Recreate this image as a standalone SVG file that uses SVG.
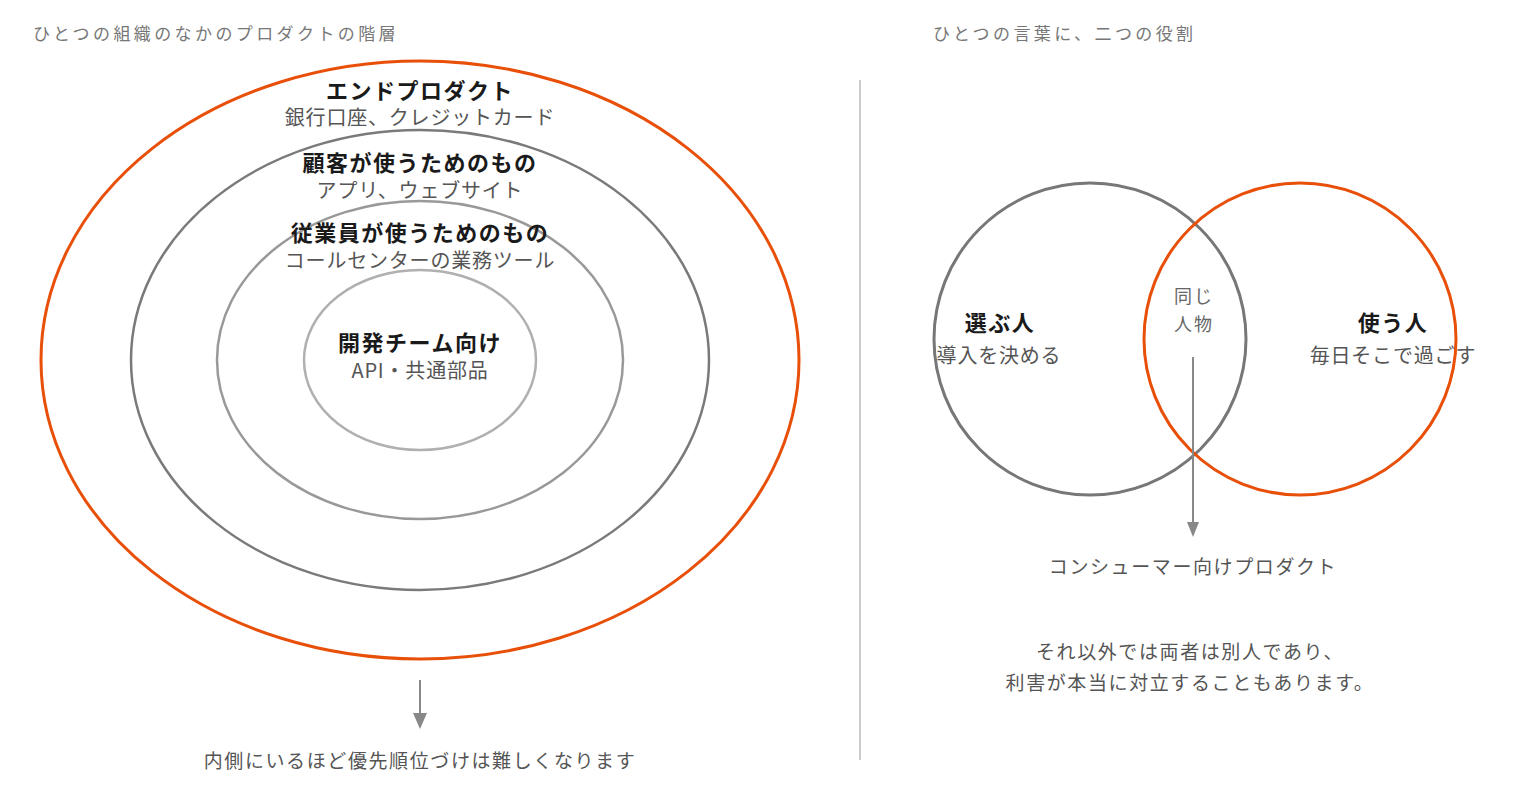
<svg xmlns="http://www.w3.org/2000/svg" width="1520" height="800" viewBox="0 0 1520 800">
<style>
text{font-family:"Noto Sans CJK JP","Noto Sans",sans-serif;}
.title{font-size:17px;fill:#777;letter-spacing:3.4px;}
.h{font-size:22px;font-weight:700;fill:#1a1a1a;text-anchor:middle;letter-spacing:1.5px;}
.s{font-size:20px;fill:#555;text-anchor:middle;letter-spacing:0.8px;}
.n{font-size:19px;fill:#555;text-anchor:middle;letter-spacing:1.6px;}
.m{font-size:18px;fill:#666;text-anchor:middle;letter-spacing:2px;}
.arrow{stroke:#888;stroke-width:2;fill:none;}
.head{fill:#888;}
</style>
<rect width="1520" height="800" fill="#fff"/>
<text class="title" x="33" y="40">ひとつの組織のなかのプロダクトの階層</text>
<text class="title" x="933" y="40">ひとつの言葉に、二つの役割</text>
<line x1="860" y1="80" x2="860" y2="760" stroke="#cccccc" stroke-width="2"/>
<g id="node-end-product">
<ellipse cx="420" cy="360" rx="379" ry="299" fill="none" stroke="#E8500A" stroke-width="3"/>
<text class="h" x="420" y="99">エンドプロダクト</text>
<text class="s" x="420" y="125">銀行口座、クレジットカード</text>
</g>
<g id="node-customer">
<ellipse cx="420" cy="360" rx="289" ry="230" fill="none" stroke="#7a7a7a" stroke-width="2.5"/>
<text class="h" x="420" y="171">顧客が使うためのもの</text>
<text class="s" x="420" y="198">アプリ、ウェブサイト</text>
</g>
<g id="node-employee">
<ellipse cx="420" cy="360" rx="203" ry="159" fill="none" stroke="#999" stroke-width="2.5"/>
<text class="h" x="420" y="241">従業員が使うためのもの</text>
<text class="s" x="420" y="268">コールセンターの業務ツール</text>
</g>
<g id="node-dev">
<ellipse cx="420" cy="360" rx="116" ry="90" fill="none" stroke="#b0b0b0" stroke-width="2.5"/>
<text class="h" x="420" y="351">開発チーム向け</text>
<text class="s" x="420" y="378">API・共通部品</text>
</g>
<g id="node-chooser">
<circle cx="1090" cy="339" r="156" fill="none" stroke="#777" stroke-width="3"/>
<text class="h" x="1000" y="331">選ぶ人</text>
<text class="s" x="999" y="363">導入を決める</text>
</g>
<g id="node-user">
<circle cx="1300" cy="339" r="156" fill="none" stroke="#E8500A" stroke-width="3"/>
<text class="h" x="1393" y="331">使う人</text>
<text class="s" x="1393" y="363">毎日そこで過ごす</text>
</g>
<g id="node-same">
<text class="m" x="1194" y="303">同じ</text>
<text class="m" x="1194" y="331">人物</text>
</g>
<g id="connectors">
<line class="arrow" x1="420" y1="680" x2="420" y2="714"/>
<polygon class="head" points="413,713 427,713 420,729"/>
<line class="arrow" x1="1193" y1="357" x2="1193" y2="523"/>
<polygon class="head" points="1187,522 1199,522 1193,537"/>
</g>
<g id="node-note-left">
<text class="n" x="420" y="768">内側にいるほど優先順位づけは難しくなります</text>
</g>
<g id="node-consumer">
<text class="n" x="1193" y="574">コンシューマー向けプロダクト</text>
</g>
<g id="node-note-right">
<text class="n" x="1190" y="659">それ以外では両者は別人であり、</text>
<text class="n" x="1190" y="690">利害が本当に対立することもあります。</text>
</g>
</svg>
